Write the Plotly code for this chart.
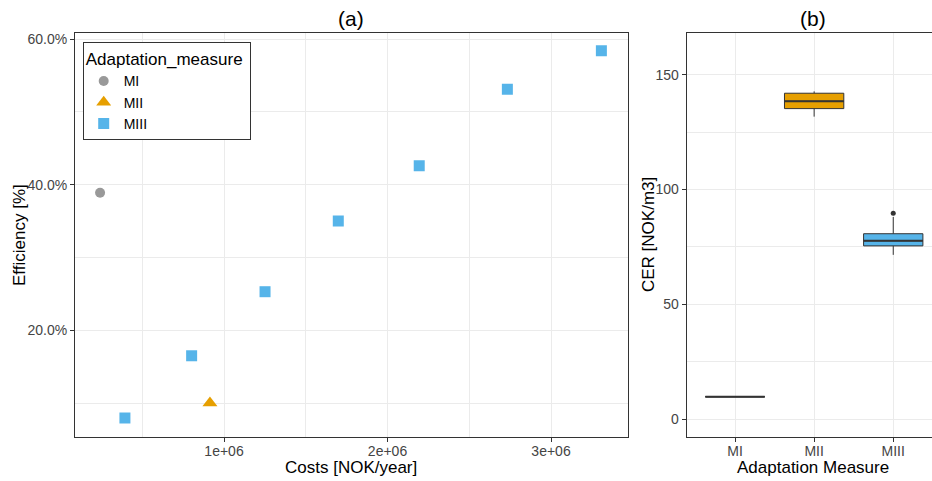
import plotly.graph_objects as go

# ---- panel (a): cost vs efficiency per adaptation measure ----
measures = ["MI", "MII", "MIII"]
colors = {"MI": "#999999", "MII": "#E69F00", "MIII": "#56B4E9"}
symbols = {"MI": "circle", "MII": "triangle-up", "MIII": "square"}
sizes = {"MI": 10, "MII": 13, "MIII": 11}

cost_mi = [0.242e6]
eff_mi = [0.389]
cost_mii = [0.914e6]
eff_mii = [0.100]
cost_miii = [0.394e6, 0.802e6, 1.251e6, 1.699e6, 2.194e6, 2.733e6, 3.308e6]
eff_miii = [0.0795, 0.165, 0.253, 0.350, 0.426, 0.531, 0.584]

cost_tickvals = [1e6, 2e6, 3e6]
cost_ticktext = ["1e+06", "2e+06", "3e+06"]

# ---- panel (b): CER box statistics per measure ----
cer_q1 = [9.7, 135.2, 75.4]
cer_median = [9.7, 138.4, 77.6]
cer_q3 = [9.7, 141.9, 80.7]
cer_low = [9.7, 131.7, 71.5]
cer_high = [9.7, 142.7, 88.0]
cer_outlier_idx = [2]
cer_outlier_val = [89.6]

W, H = 932, 481
FONT = "Liberation Sans, Arial, sans-serif"
DARK = "#333333"
TICK = "#444444"
GRID = "#EBEBEB"


def fx(p):
    return p / W


def fy(p):
    return 1 - p / H


fig = go.Figure()

series = {
    "MI": (cost_mi, eff_mi),
    "MII": (cost_mii, eff_mii),
    "MIII": (cost_miii, eff_miii),
}
for m in measures:
    xs, ys = series[m]
    fig.add_trace(go.Scatter(
        x=xs, y=ys, mode="markers", name=m,
        marker=dict(color=colors[m], symbol=symbols[m], size=sizes[m],
                    line=dict(width=0)),
        xaxis="x", yaxis="y",
    ))

box_w = 0.75
for i, m in enumerate(measures):
    fig.add_trace(go.Box(
        x=[i], q1=[cer_q1[i]], median=[cer_median[i]], q3=[cer_q3[i]],
        lowerfence=[cer_low[i]], upperfence=[cer_high[i]],
        width=box_w, whiskerwidth=0, boxpoints=False,
        fillcolor=colors[m], line=dict(color=DARK, width=1),
        showlegend=False, hoverinfo="skip", xaxis="x2", yaxis="y2",
    ))
    # thicker median bar, as in ggplot boxplots
    fig.add_trace(go.Scatter(
        x=[i - box_w / 2, i + box_w / 2], y=[cer_median[i], cer_median[i]],
        mode="lines", line=dict(color=DARK, width=2),
        showlegend=False, hoverinfo="skip", xaxis="x2", yaxis="y2",
    ))

fig.add_trace(go.Scatter(
    x=cer_outlier_idx, y=cer_outlier_val, mode="markers",
    marker=dict(color=DARK, size=5), showlegend=False,
    xaxis="x2", yaxis="y2",
))

y_dom = [fy(437), fy(33.3)]
axis_common = dict(
    showline=True, linecolor=DARK, linewidth=1,
    ticks="outside", ticklen=4, tickwidth=1, tickcolor=DARK,
    tickfont=dict(family=FONT, size=14, color=TICK),
    showgrid=True, gridcolor=GRID, gridwidth=1, zeroline=False,
    automargin=False,
)
xaxis_extra = dict(ticklabelstandoff=-3)


def label(text, px, py, size=17, angle=0):
    return dict(text=text, x=fx(px), y=fy(py), xref="paper", yref="paper",
                xanchor="center", yanchor="middle", showarrow=False,
                textangle=angle, font=dict(family=FONT, size=size, color="black"))


fig.update_layout(
    width=W, height=H,
    margin=dict(l=0, r=0, t=0, b=0),
    paper_bgcolor="white", plot_bgcolor="white",
    font=dict(family=FONT, color="black"),
    xaxis=dict(domain=[fx(75), fx(627.7)], anchor="y", range=[0.0887e6, 3.469e6],
               tickvals=cost_tickvals, ticktext=cost_ticktext, mirror=True,
               minor=dict(dtick=0.5e6, tick0=0, showgrid=True, gridcolor=GRID,
                          gridwidth=1, ticks=""),
               **axis_common, **xaxis_extra),
    yaxis=dict(domain=y_dom, anchor="x", range=[0.0534, 0.608],
               dtick=0.2, tick0=0, tickformat=".1%", mirror=True,
               minor=dict(dtick=0.1, tick0=0, showgrid=True, gridcolor=GRID,
                          gridwidth=1, ticks=""),
               **axis_common),
    xaxis2=dict(domain=[fx(686.7), 1.0], anchor="y2", range=[-0.611, 2.49],
                tickvals=list(range(len(measures))), ticktext=measures,
                mirror=True, **axis_common, **xaxis_extra),
    yaxis2=dict(domain=y_dom, anchor="x2", range=[-7.84, 168.0],
                dtick=50, tick0=0,
                minor=dict(dtick=25, tick0=0, showgrid=True, gridcolor=GRID,
                           gridwidth=1, ticks=""),
                **axis_common),
    legend=dict(
        x=fx(82.7), y=fy(42.3), xanchor="left", yanchor="top",
        bgcolor="white", bordercolor=DARK, borderwidth=1,
        title=dict(text="Adaptation_measure ", font=dict(family=FONT, size=17)),
        font=dict(family=FONT, size=14, color="black"),
        tracegroupgap=0, itemwidth=30,
    ),
    annotations=[
        label("(a)", 351, 18, size=21),
        label("(b)", 813, 18, size=21),
        label("Costs [NOK/year]", 351, 467),
        label("Adaptation Measure", 813, 467),
        label("Efficiency [%]", 19, 235, angle=-90),
        label("CER [NOK/m3]", 648, 235, angle=-90),
    ],
)

fig.write_html("out.html")
